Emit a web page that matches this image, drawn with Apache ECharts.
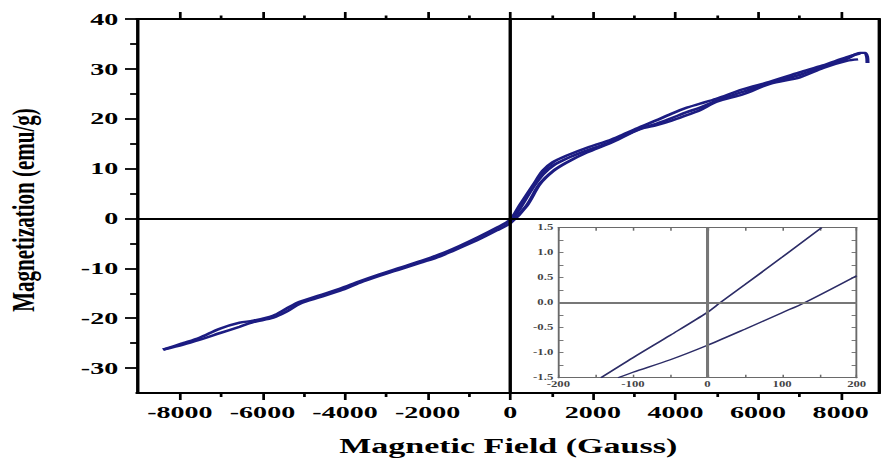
<!DOCTYPE html>
<html>
<head>
<meta charset="utf-8">
<title>Magnetization vs Magnetic Field</title>
<script src="https://cdn.jsdelivr.net/npm/echarts@6/dist/echarts.min.js"></script>
<style>
  html, body { margin: 0; padding: 0; background: #fff; overflow: hidden; }
  #wrap { width: 881px; height: 461px; overflow: hidden; }
  /* the figure is laid out narrow and widened horizontally */
  #chart { width: 518px; height: 461px; transform: scaleX(1.7008); transform-origin: 0 0; }
</style>
</head>
<body>
<div id="wrap"><div id="chart"></div></div>
<script>
// M-H loop, [field (G), magnetization (emu/g)]
const initialBranch = [
  [0, -0.5], [230, 2.0], [552, 6.3], [794, 8.9], [1036, 10.6], [1361, 12.0], [1845, 13.6],
  [2409, 15.3], [3136, 18.0], [3540, 19.0], [3900, 20.1], [4266, 21.3], [4588, 22.2],
  [4993, 23.6], [5637, 25.4], [6283, 27.2], [7010, 28.8], [7574, 30.5], [8140, 32.0],
  [8470, 33.2], [8590, 33.2], [8640, 32.4], [8650, 31.2]
];
const descendingBranch = [
  [8470, 33.1], [8140, 32.3], [7574, 30.7], [7010, 29.3], [6283, 27.4], [5637, 25.9],
  [4993, 24.0], [4588, 23.0], [4266, 22.2], [3900, 21.0], [3540, 19.7], [3136, 18.3],
  [2700, 16.7], [2409, 15.7], [1925, 14.4], [1361, 12.6], [1036, 11.3], [794, 9.6],
  [552, 6.6], [230, 2.6], [0, -0.3], [-334, -1.9], [-738, -3.6], [-1223, -5.5],
  [-1707, -7.2], [-2191, -8.6], [-2676, -9.9], [-3160, -11.2], [-3644, -12.6],
  [-4128, -14.1], [-4613, -15.4], [-5097, -16.7], [-5420, -18.1], [-5743, -19.5],
  [-6227, -20.5], [-6550, -20.9], [-7034, -22.1], [-7518, -23.9], [-7922, -25.0],
  [-8407, -26.3]
];
const ascendingBranch = [
  [-8407, -26.3], [-7922, -25.3], [-7518, -24.3], [-7034, -23.0], [-6550, -21.7],
  [-6227, -20.8], [-5743, -19.9], [-5420, -18.7], [-5097, -17.1], [-4613, -15.8],
  [-4128, -14.5], [-3644, -12.9], [-3160, -11.5], [-2676, -10.2], [-2191, -8.9],
  [-1707, -7.6], [-1223, -5.9], [-738, -4.1], [-334, -2.4], [0, -0.9], [392, 2.5],
  [714, 6.9], [1036, 9.5], [1361, 11.2], [1845, 13.2], [2409, 15.1], [3136, 17.9],
  [3540, 18.7], [3900, 19.6], [4266, 20.7], [4588, 21.7], [4993, 23.4], [5637, 24.9],
  [6283, 27.0], [7010, 28.3], [7574, 30.2], [8140, 31.6], [8422, 31.9]
];

// low-field detail (inset)
const insetUpper = [[-143, -1.5], [-100, -1.1], [-50, -0.65], [0, -0.19], [17, 0], [50, 0.36], [100, 0.91], [153, 1.5]];
const insetLower = [[-120, -1.5], [-100, -1.39], [-50, -1.14], [0, -0.85], [50, -0.53], [100, -0.2], [130, 0], [200, 0.54]];

// tick positions
const fieldTicks = [-8000, -6000, -4000, -2000, 0, 2000, 4000, 6000, 8000];
const fieldMinorTicks = [-7000, -5000, -3000, -1000, 1000, 3000, 5000, 7000];
const magTicks = [-30, -20, -10, 0, 10, 20, 30, 40];
const magMinorTicks = [-25, -15, -5, 5, 15, 25, 35];
const insetFieldTicks = [-200, -100, 0, 100, 200];
const insetFieldAllTicks = [-200, -150, -100, -50, 0, 50, 100, 150, 200];
const insetMagTicks = [-1.5, -1, -0.5, 0, 0.5, 1, 1.5];
const insetMagAllTicks = [-1.5, -1.25, -1, -0.75, -0.5, -0.25, 0, 0.25, 0.5, 0.75, 1, 1.25, 1.5];

const FONT = '"Liberation Serif", "Times New Roman", serif';
const CURVE = '#1c1c82';
const INSET_CURVE = '#2c2c66';
const INSET_GRAY = '#6a6a6a';

function valueAxis(gridIndex, position, min, max, extra) {
  return Object.assign({
    type: 'value', gridIndex, position, min, max,
    splitLine: { show: false },
    axisLine: { show: false, onZero: false },
    axisTick: { show: false },
    axisLabel: { show: false }
  }, extra || {});
}
function ticks(values, length, inside, color, width) {
  return { show: true, customValues: values, length, inside, lineStyle: { color, width } };
}
function line(color, width) {
  return { show: true, onZero: false, lineStyle: { color, width } };
}
const mainLabel = (values) => ({
  show: true, customValues: values, margin: 11, formatter: v => String(v),
  fontFamily: FONT, fontWeight: 'bold', fontSize: 16.5, color: '#000'
});
const insetLabel = (values, fmt) => ({
  show: true, customValues: values, margin: 3, formatter: fmt,
  fontFamily: FONT, fontWeight: 'bold', fontSize: 7.5, color: '#444'
});

const X_MIN = -9040, X_MAX = 8940;

const chart = echarts.init(document.getElementById('chart'), null, { renderer: 'svg' });

chart.setOption({
  animation: false,
  backgroundColor: '#fff',
  grid: [
    { left: 80.5, right: 0.9, top: 19, bottom: 67 },
    { left: 328.3, top: 227.7, width: 175.4, height: 150 }
  ],
  xAxis: [
    valueAxis(0, 'bottom', X_MIN, X_MAX, {
      axisLine: line('#000', 2),
      axisTick: ticks(fieldTicks, 7, false, '#000', 1.6),
      axisLabel: mainLabel(fieldTicks),
      name: 'Magnetic Field (Gauss)', nameLocation: 'middle', nameGap: 43,
      nameTextStyle: { fontFamily: FONT, fontWeight: 'bold', fontSize: 20, color: '#000' }
    }),
    valueAxis(0, 'bottom', X_MIN, X_MAX, { axisTick: ticks(fieldMinorTicks, 4, false, '#000', 1.6) }),
    valueAxis(0, 'top', X_MIN, X_MAX, {
      axisLine: line('#000', 2),
      axisTick: ticks(fieldTicks, 7, false, '#000', 1.6)
    }),
    valueAxis(0, 'top', X_MIN, X_MAX, { axisTick: ticks(fieldMinorTicks, 3.5, false, '#000', 1.6) }),
    valueAxis(1, 'bottom', -200, 200, {
      axisLine: line(INSET_GRAY, 1.1),
      axisTick: ticks(insetFieldAllTicks, 3, true, INSET_GRAY, 0.9),
      axisLabel: insetLabel(insetFieldTicks, v => String(v))
    }),
    valueAxis(1, 'top', -200, 200, {
      axisLine: line(INSET_GRAY, 1.1),
      axisTick: ticks(insetFieldAllTicks, 3, true, INSET_GRAY, 0.9)
    })
  ],
  yAxis: [
    valueAxis(0, 'left', -35, 40, {
      axisLine: line('#000', 2),
      axisTick: ticks(magTicks, 7, false, '#000', 1.8),
      axisLabel: mainLabel(magTicks)
    }),
    valueAxis(0, 'left', -35, 40, { axisTick: ticks(magMinorTicks, 4, false, '#000', 1.8) }),
    valueAxis(0, 'right', -35, 40, { axisLine: line('#000', 2) }),
    valueAxis(1, 'left', -1.5, 1.5, {
      axisLine: line(INSET_GRAY, 1.1),
      axisTick: ticks(insetMagAllTicks, 3, true, INSET_GRAY, 0.9),
      axisLabel: insetLabel(insetMagTicks, v => Number(v).toFixed(1))
    }),
    valueAxis(1, 'right', -1.5, 1.5, {
      axisLine: line(INSET_GRAY, 1.1),
      axisTick: ticks(insetMagAllTicks, 3, true, INSET_GRAY, 0.9)
    })
  ],
  graphic: [{
    type: 'text',
    x: 13.5, y: 210,
    rotation: Math.PI / 2,
    scaleY: 0.88,
    style: {
      text: 'Magnetization (emu/g)',
      font: 'bold 21px ' + FONT,
      fill: '#000',
      align: 'center', verticalAlign: 'middle',
      textAlign: 'center', textVerticalAlign: 'middle'
    }
  }],
  series: [
    {
      type: 'line', xAxisIndex: 0, yAxisIndex: 0, data: [], silent: true,
      markLine: {
        silent: true, symbol: 'none', label: { show: false },
        lineStyle: { color: '#000', width: 2, type: 'solid' },
        data: [{ xAxis: 0 }, { yAxis: 0 }]
      }
    },
    {
      type: 'line', xAxisIndex: 0, yAxisIndex: 0, data: initialBranch,
      showSymbol: false, smooth: 0.3, lineStyle: { color: CURVE, width: 2.4 }
    },
    {
      type: 'line', xAxisIndex: 0, yAxisIndex: 0, data: descendingBranch,
      showSymbol: false, smooth: 0.3, lineStyle: { color: CURVE, width: 2.4 }
    },
    {
      type: 'line', xAxisIndex: 0, yAxisIndex: 0, data: ascendingBranch,
      showSymbol: false, smooth: 0.3, lineStyle: { color: CURVE, width: 2.4 }
    },
    {
      type: 'line', xAxisIndex: 4, yAxisIndex: 3, data: [], silent: true,
      markLine: {
        silent: true, symbol: 'none', label: { show: false },
        lineStyle: { color: '#777', width: 1.8, type: 'solid' },
        data: [{ xAxis: 0 }, { yAxis: 0 }]
      }
    },
    {
      type: 'line', xAxisIndex: 4, yAxisIndex: 3, data: insetUpper,
      showSymbol: false, smooth: 0.3, lineStyle: { color: INSET_CURVE, width: 1.3 }
    },
    {
      type: 'line', xAxisIndex: 4, yAxisIndex: 3, data: insetLower,
      showSymbol: false, smooth: 0.3, lineStyle: { color: INSET_CURVE, width: 1.3 }
    }
  ]
});
</script>
</body>
</html>
